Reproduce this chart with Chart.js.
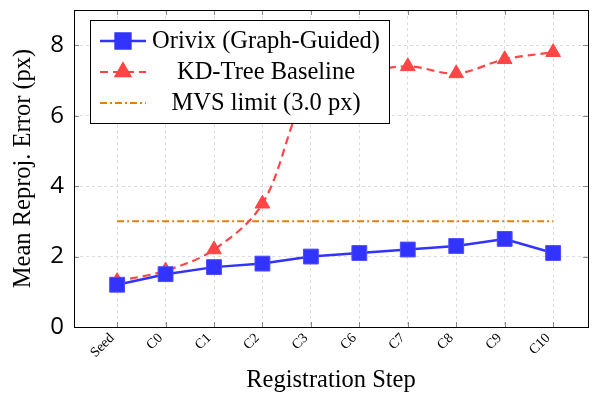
<!DOCTYPE html>
<html>
<head>
<meta charset="utf-8">
<script src="https://cdn.jsdelivr.net/npm/chart.js@4.4.1/dist/chart.umd.min.js"></script>
<style>
  html, body { margin: 0; padding: 0; background: #fff; }
  #wrap { width: 592px; height: 393px; position: relative; }
</style>
</head>
<body>
<div id="wrap"><canvas id="chart"></canvas></div>
<script>
// Registration steps along the x axis
const steps = ['Seed', 'C0', 'C1', 'C2', 'C3', 'C6', 'C7', 'C8', 'C9', 'C10'];
// Mean reprojection error (px) per step
const orivixError = [1.2, 1.5, 1.7, 1.8, 2.0, 2.1, 2.2, 2.3, 2.5, 2.1];
const kdTreeError = [1.3, 1.6, 2.2, 3.5, 6.8, 7.2, 7.4, 7.2, 7.6, 7.8];
const mvsLimit = [3.0, 3.0];   // flat limit, drawn from first to last step
const yTicks = [0, 2, 4, 6, 8];

const SERIF = '"Liberation Serif", "Times New Roman", serif';
const BLUE = '#3333ff';
const RED = '#ff4545';
const ORANGE = '#e87f00';

const toPoints = vals => vals.map((v, i) => ({ x: i, y: v }));

// pgfplots-like frame, inner tick marks and boxed legend
const framePlugin = {
    id: 'frame',
    afterDraw(chart) {
        const { ctx, chartArea: a, scales } = chart;
        ctx.save();
        ctx.strokeStyle = '#888';
        ctx.lineWidth = 1;
        ctx.beginPath();
        steps.forEach((s, i) => {
            const x = Math.round(scales.x.getPixelForValue(i)) + 0.5;
            ctx.moveTo(x, a.bottom); ctx.lineTo(x, a.bottom - 5);
            ctx.moveTo(x, a.top); ctx.lineTo(x, a.top + 5);
        });
        yTicks.forEach(v => {
            const y = Math.round(scales.y.getPixelForValue(v)) + 0.5;
            ctx.moveTo(a.left, y); ctx.lineTo(a.left + 5, y);
            ctx.moveTo(a.right, y); ctx.lineTo(a.right - 5, y);
        });
        ctx.stroke();
        ctx.strokeStyle = '#000';
        ctx.strokeRect(Math.round(a.left) + 0.5, Math.round(a.top) + 0.5,
            Math.round(a.right - a.left), Math.round(a.bottom - a.top));

        // legend
        const lx = 90.5, ly = 20.5, lw = 299, lh = 103;
        ctx.fillStyle = '#fff';
        ctx.fillRect(lx, ly, lw, lh);
        ctx.strokeStyle = '#000';
        ctx.strokeRect(lx, ly, lw, lh);
        const rows = chart.data.datasets;
        ctx.font = '24.5px ' + SERIF;
        ctx.textAlign = 'center';
        ctx.textBaseline = 'middle';
        rows.forEach((ds, k) => {
            const y = 41 + k * 31;
            ctx.strokeStyle = ds.borderColor;
            ctx.lineWidth = ds.borderWidth;
            ctx.setLineDash(ds.borderDash || []);
            ctx.beginPath();
            ctx.moveTo(100, y); ctx.lineTo(146, y);
            ctx.stroke();
            ctx.setLineDash([]);
            if (ds.pointRadius > 0) {
                Chart.helpers.drawPoint(ctx, {
                    pointStyle: ds.pointStyle, radius: ds.pointRadius,
                    borderWidth: 1, rotation: 0
                }, 123, y);
                ctx.fillStyle = ds.backgroundColor;
                ctx.fill();
            }
            ctx.fillStyle = '#000';
            ctx.fillText(ds.label, 266, y + 1);
        });
        ctx.restore();
    }
};

new Chart(document.getElementById('chart'), {
    type: 'line',
    data: {
        datasets: [
            {
                label: 'Orivix (Graph-Guided)',
                data: toPoints(orivixError),
                borderColor: BLUE,
                backgroundColor: BLUE,
                borderWidth: 2.5,
                pointStyle: 'rect',
                pointRadius: 10.5,
                pointBorderWidth: 1,
                pointBorderColor: '#4d4dff',
                tension: 0,
                order: 1
            },
            {
                label: 'KD-Tree Baseline',
                data: toPoints(kdTreeError),
                borderColor: RED,
                backgroundColor: RED,
                borderWidth: 2.2,
                borderDash: [8, 5],
                pointStyle: 'triangle',
                pointRadius: 8.5,
                pointBorderWidth: 1,
                tension: 0.35,
                order: 2
            },
            {
                label: 'MVS limit (3.0 px)',
                data: [{ x: 0, y: mvsLimit[0] }, { x: steps.length - 1, y: mvsLimit[1] }],
                borderColor: ORANGE,
                backgroundColor: ORANGE,
                borderWidth: 2,
                borderDash: [7, 3, 2, 3],
                pointRadius: 0,
                order: 3
            }
        ]
    },
    options: {
        responsive: true,
        maintainAspectRatio: false,
        animation: false,
        devicePixelRatio: 1,
        layout: { autoPadding: false, padding: { top: 10, right: 4, left: 0, bottom: 0 } },
        plugins: {
            legend: { display: false },
            tooltip: { enabled: false }
        },
        scales: {
            x: {
                type: 'linear',
                min: -0.89,
                max: 9.72,
                afterBuildTicks: scale => { scale.ticks = steps.map((s, i) => ({ value: i })); },
                afterFit: scale => {
                    scale.height = 66;
                    scale.paddingLeft = 0;
                    scale.paddingRight = 0;
                },
                grid: { color: '#dcdcdc', drawTicks: false },
                border: { display: false, dash: [3, 3] },
                ticks: {
                    callback: v => steps[v],
                    color: '#000',
                    maxRotation: 45,
                    minRotation: 45,
                    padding: 3,
                    labelOffset: -5,
                    font: { family: SERIF, size: 14 }
                },
                title: {
                    display: true,
                    text: 'Registration Step',
                    color: '#000',
                    font: { family: SERIF, size: 24.5, lineHeight: 1 },
                    padding: { top: 0, bottom: 0 }
                }
            },
            y: {
                min: 0,
                max: 9,
                afterBuildTicks: scale => { scale.ticks = yTicks.map(v => ({ value: v })); },
                afterFit: scale => {
                    scale.width = 74;
                    scale.paddingTop = 0;
                    scale.paddingBottom = 0;
                },
                grid: { color: '#dcdcdc', drawTicks: false },
                border: { display: false, dash: [3, 3] },
                ticks: {
                    color: '#000',
                    padding: 10,
                    font: { family: '"Open Sans", sans-serif', size: 24 }
                },
                title: {
                    display: true,
                    text: 'Mean Reproj. Error (px)',
                    color: '#000',
                    font: { family: SERIF, size: 24.5 },
                    padding: { top: 9, bottom: 2 }
                }
            }
        }
    },
    plugins: [framePlugin]
});
</script>
</body>
</html>
